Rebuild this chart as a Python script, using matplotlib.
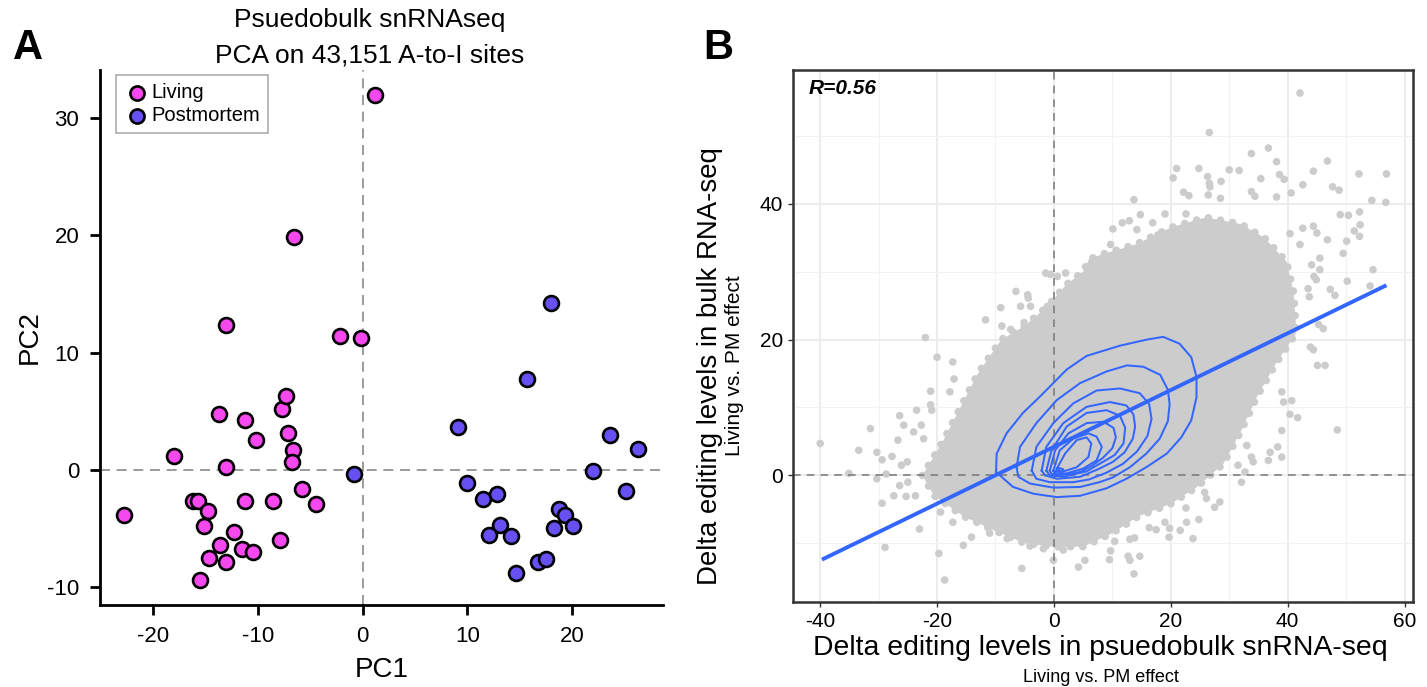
import matplotlib
matplotlib.use("Agg")
import matplotlib.pyplot as plt
from matplotlib import font_manager

W, H = 1427, 687

names = {f.name for f in font_manager.fontManager.ttflist}
FAM = ["Liberation Sans Narrow", "Liberation Sans", "DejaVu Sans"]
FAM = [f for f in FAM if f in names] or ["DejaVu Sans"]
plt.rcParams["font.family"] = FAM
plt.rcParams["axes.unicode_minus"] = False

# ---------------- Panel A: PCA of pseudobulk samples ----------------
living_pc1 = [1.2, -6.6, -13.1, -2.2, -0.15, -22.8, -18.0, -13.7, -11.2, -10.2,
              -7.7, -7.3, -7.1, -6.7, -6.8, -13.1, -5.8, -4.5, -8.6, -11.2,
              -16.2, -15.7, -14.8, -15.2, -12.3, -13.6, -11.5, -10.5, -7.9,
              -14.7, -13.1, -15.5]
living_pc2 = [32.0, 19.9, 12.4, 11.4, 11.3, -3.8, 1.2, 4.8, 4.3, 2.6,
              5.2, 6.3, 3.2, 1.7, 0.65, 0.26, -1.6, -2.9, -2.6, -2.6,
              -2.6, -2.6, -3.5, -4.8, -5.3, -6.4, -6.7, -7.0, -6.0,
              -7.5, -7.8, -9.4]
pm_pc1 = [-0.8, 9.1, 15.7, 18.0, 10.0, 11.5, 12.8, 13.1, 12.1, 14.2, 14.7,
          16.8, 17.5, 18.3, 18.8, 19.3, 20.1, 22.0, 23.6, 25.2, 26.3]
pm_pc2 = [-0.3, 3.7, 7.8, 14.2, -1.1, -2.5, -2.05, -4.7, -5.5, -5.6, -8.8,
          -7.8, -7.6, -4.9, -3.3, -3.8, -4.8, -0.06, 3.0, -1.8, 1.8]
pca_xticks = [-20, -10, 0, 10, 20]
pca_yticks = [-10, 0, 10, 20, 30]

# ---------------- Panel B: delta editing comparison ----------------
# dense core of the 43,151-site cloud (outline)
cloud_x = [-22.5, -20.5, -15.5, -10.5, -5.0, 0.0, 5.0, 10.0, 14.5, 20.0, 24.5,
           29.0, 32.0, 34.7, 38.0, 41.5, 41.0, 39.8, 36.0, 32.0, 26.0, 20.0,
           14.0, 8.0, 6.0, 5.0, 2.0, -1.0, -5.0, -9.0, -13.0, -16.0, -19.0]
cloud_y = [0.0, -3.0, -6.0, -8.0, -10.0, -10.5, -10.5, -8.5, -6.0, -4.2, -1.7,
           1.7, 6.5, 11.5, 16.5, 21.0, 27.0, 31.5, 35.0, 37.0, 38.0, 36.5,
           34.0, 32.5, 31.8, 30.0, 28.0, 25.0, 22.0, 20.0, 15.0, 10.0, 5.0]

# individual sites outside the dense core
site_x = [4.9, 3.5, 6.7, -1.4, -0.6, 0.6, 2.0, -6.5, -4.5, -4.4, -9.1, -5.7,
          -4.0, -1.1, -11.7, -8.9, -7.4, -5.1, -22.0, -20.0, -17.3, -17.1,
          -21.1, -17.8, -21.1, -23.5, -26.4, -20.9, -25.7, -31.4, -22.7, -24.0,
          -22.3, -26.7, -40.0, -33.4, -30.3, -27.7, -29.4, -25.1, -26.1, -35.1,
          -28.7, -30.3, -26.4, -25.0, -27.4, -25.3, -23.7, -29.4, -23.0, -28.9,
          -19.7, -18.7, -17.3, -19.4, -15.5, -14.1, -11.0, -5.5, -0.1, 4.2,
          5.3, 1.6, -1.8, -4.1, -8.0,
          48.5, 45.1, 46.4, 43.9, 44.4, 41.7, 40.4, 40.7, 39.0, 39.3, 39.0,
          39.0, 38.3, 36.7, 37.0, 34.1, 33.8, 33.0, 31.5, 32.1, 32.7, 28.4,
          27.5, 25.8, 26.1, 24.8, 23.8, 22.7, 21.6, 22.6, 19.8, 19.7, 19.0,
          17.5, 16.3, 13.8, 13.0, 14.7, 12.7, 13.0, 13.7, 9.7, 9.5, 10.4,
          42.1, 26.6, 33.8, 36.7, 38.1, 46.8, 44.4, 52.2, 56.9, 21.0, 20.4,
          24.8, 26.3, 26.6, 26.7, 30.0, 31.7, 28.6, 35.4, 38.6, 39.4, 42.6,
          47.7, 48.8, 22.2, 23.1, 26.4, 28.5, 33.8, 34.4, 38.1, 40.6, 13.7,
          54.4, 56.8, 14.8, 19.0, 22.6, 10.1, 11.7, 12.9, 14.2, 16.9, 17.8,
          49.0, 50.4, 52.3, 52.4, 52.3, 51.4, 50.1, 49.5, 46.8, 42.6, 44.4,
          45.0, 42.1, 40.4, 45.5, 44.1, 45.5, 44.5, 44.9, 54.6, 50.2, 54.1,
          47.3, 48.1, 43.5, 43.7, 45.3, 46.1, 9.7, 8.7]
site_y = [25.2, 21.9, 22.5, 29.8, 29.6, 29.3, 29.8, 27.1, 26.6, 26.1, 24.7,
          24.9, 24.9, 24.9, 22.9, 22.0, 21.5, 22.5, 20.3, 17.4, 16.7, 14.2,
          12.4, 12.3, 10.4, 9.6, 8.8, 9.6, 7.4, 6.9, 7.4, 6.4, 5.4, 5.2, 4.7,
          3.7, 3.4, 2.8, 2.3, 2.0, 1.5, 0.3, 0.2, -0.5, -1.5, -1.0, -3.0, -3.1,
          -3.0, -4.1, -7.9, -10.6, -11.5, -15.4, -6.9, -5.4, -10.3, -9.1,
          -8.5, -13.7, -12.5, -13.5, -12.5, -11.0, -10.8, -10.4, -9.3,
          6.7, 16.2, 16.2, 18.9, 18.5, 8.5, 9.0, 11.0, 12.3, 10.8, 6.6, 2.7,
          4.2, 2.2, 3.4, 2.0, 2.7, 4.4, 1.5, -1.0, 0.5, -3.9, -4.7, -2.5,
          -3.4, -6.5, -9.3, -6.9, -8.1, -4.8, -7.8, -9.1, -6.9, -8.0, -7.7,
          -9.2, -9.4, -11.9, -11.9, -12.5, -14.5, -11.1, -12.4, -9.7,
          56.3, 50.5, 47.4, 48.2, 46.2, 46.3, 44.8, 44.4, 44.4, 45.2, 43.8,
          45.2, 44.0, 43.0, 42.5, 45.0, 44.9, 43.3, 43.7, 44.3, 43.6, 42.8,
          42.5, 42.0, 41.7, 41.2, 41.3, 40.8, 41.8, 41.1, 41.0, 41.6, 40.6,
          40.5, 40.2, 38.4, 38.5, 38.5, 36.3, 37.2, 37.5, 36.2, 37.2, 35.4,
          38.4, 38.3, 38.8, 36.9, 35.2, 36.0, 34.5, 32.7, 34.7, 36.4, 36.7,
          35.7, 34.0, 35.6, 32.0, 31.0, 30.3, 29.3, 28.8, 30.3, 28.6, 27.9,
          27.4, 26.5, 27.5, 26.3, 22.2, 21.6, 34.0, 32.3]

# 2-D density contour levels, outermost first
contour_x = [
    [-9.9, -9.8, -8.1, -5.3, -2.4, 2.2, 5.6, 11.3, 15.9, 18.7, 21.5, 23.5, 24.4,
     24.4, 23.5, 21.8, 19.3, 15.8, 12.4, 9.0, 4.5, 0.5, -3.5, -7.0, -9.9],
    [-6.4, -5.8, -3.0, 0.5, 4.5, 9.0, 12.5, 15.3, 18.2, 19.5, 19.8, 19.5, 18.1,
     15.8, 13.0, 10.1, 7.8, 4.5, -0.1, -4.1, -6.1, -6.4],
    [-3.8, -3.0, -0.1, 3.3, 7.3, 11.3, 14.7, 16.3, 16.7, 16.0, 14.2, 11.8, 9.0,
     6.0, 3.3, -0.7, -3.0, -3.8],
    [-2.1, -1.3, 1.6, 5.6, 9.6, 12.4, 13.6, 13.9, 13.5, 12.1, 10.1, 7.8, 4.5,
     0.5, -1.5, -2.1],
    [-1.3, -0.4, 2.2, 5.6, 9.0, 11.3, 12.2, 11.9, 10.4, 8.4, 5.6, 1.6, -0.7, -1.3],
    [-0.7, 0.2, 2.5, 5.6, 8.5, 10.2, 10.6, 10.0, 8.4, 6.5, 4.5, 1.0, -0.4, -0.7],
    [-0.1, 1.0, 3.3, 5.9, 7.3, 8.2, 7.3, 5.0, 2.2, 0.2, -0.1],
    [0.5, 1.9, 3.9, 5.6, 6.4, 5.9, 3.9, 1.3, 0.5],
    [0.3, 0.8, 1.6, 1.3, 0.3],
]
contour_y = [
    [0.5, 3.2, 6.2, 9.2, 11.6, 15.6, 17.6, 19.1, 20.0, 20.4, 19.4, 17.4, 14.5,
     11.5, 8.1, 5.6, 3.2, 1.2, -0.5, -1.9, -3.0, -3.2, -2.7, -1.7, 0.5],
    [1.2, 4.2, 7.7, 11.1, 13.6, 15.3, 16.2, 16.0, 14.8, 12.6, 10.5, 8.0, 5.4,
     3.2, 1.2, -0.3, -1.0, -1.7, -1.8, -1.2, -0.2, 1.2],
    [0.7, 4.2, 7.7, 10.6, 12.5, 12.8, 12.1, 10.5, 8.3, 5.8, 3.5, 1.7, 0.4,
     -0.6, -1.0, -1.0, -0.5, 0.7],
    [0.7, 4.2, 7.7, 10.1, 10.8, 10.3, 9.0, 7.2, 5.4, 3.4, 2.0, 1.0, -0.2,
     -0.5, 0.0, 0.7],
    [0.7, 3.7, 7.2, 9.2, 9.6, 8.8, 7.0, 4.7, 3.0, 2.0, 0.6, -0.2, 0.0, 0.7],
    [0.7, 3.7, 6.2, 7.7, 7.9, 7.0, 5.6, 4.0, 2.6, 1.4, 0.5, 0.0, 0.2, 0.7],
    [0.7, 3.7, 5.4, 6.2, 5.7, 4.2, 2.2, 1.0, 0.3, 0.3, 0.7],
    [1.0, 3.2, 5.2, 5.6, 4.7, 2.7, 1.2, 0.5, 1.0],
    [0.6, 1.1, 0.9, 0.5, 0.6],
]

# linear fit end points
fit_x = [-39.7, 56.9]
fit_y = [-12.4, 28.0]
r_label = "R=0.56"
b_xticks = [-40, -20, 0, 20, 40, 60]
b_yticks = [0, 20, 40]

PINK = "#F548EE"
PURPLE = "#6650F2"
GREY_PT = "#CCCCCC"
BLUE = "#3366FF"

fig = plt.figure(figsize=(W / 100, H / 100), dpi=100)


def fx(px):
    return px / W


def fy(py):
    return 1 - py / H


# ---- Panel A ----
ax1 = fig.add_axes([fx(100), fy(605), (663 - 100) / W, (605 - 70) / H])
ax1.set_xlim(-25.1, 28.7)
ax1.set_ylim(-11.5, 34.1)
ax1.axvline(0, color="#8a8a8a", lw=1.2, ls=(0, (6, 4)), zorder=1)
ax1.axhline(0, color="#8a8a8a", lw=1.2, ls=(0, (6, 4)), zorder=1)
ax1.scatter(living_pc1, living_pc2, s=115, c=PINK, edgecolors="black",
            linewidths=1.9, zorder=3, label="Living")
ax1.scatter(pm_pc1, pm_pc2, s=115, c=PURPLE, edgecolors="black",
            linewidths=1.9, zorder=3, label="Postmortem")
for side in ("top", "right"):
    ax1.spines[side].set_visible(False)
for side in ("left", "bottom"):
    ax1.spines[side].set_linewidth(2.0)
ax1.set_xticks(pca_xticks)
ax1.set_yticks(pca_yticks)
ax1.tick_params(length=7, width=2.0, labelsize=16, pad=8)
ax1.set_xlabel("PC1", fontsize=20, labelpad=7)
ax1.set_ylabel("PC2", fontsize=20, labelpad=3)
leg = ax1.legend(loc="upper left", bbox_to_anchor=(0.028, 0.99),
                 borderaxespad=0, fontsize=14.5, frameon=True, fancybox=False,
                 handletextpad=0.05, borderpad=0.4, labelspacing=0.2,
                 handlelength=1.3, scatterpoints=1, markerscale=0.95)
leg.get_frame().set_edgecolor("#9a9a9a")
leg.get_frame().set_linewidth(1.2)

fig.text(fx(370), fy(20), "Psuedobulk snRNAseq", ha="center", va="center",
         fontsize=19)
fig.text(fx(370), fy(55), "PCA on 43,151 A-to-I sites", ha="center",
         va="center", fontsize=19)
fig.text(fx(28), fy(48), "A", ha="center", va="center", fontsize=30,
         fontweight="bold")

# ---- Panel B ----
ax2 = fig.add_axes([fx(793.3), fy(601.7), 620 / W, 531.7 / H])
ax2.set_xlim(-44.6, 61.5)
ax2.set_ylim(-18.6, 59.7)
ax2.set_xticks(b_xticks)
ax2.set_yticks(b_yticks)
ax2.set_xticks([-30, -10, 10, 30, 50], minor=True)
ax2.set_yticks([-10, 10, 30, 50], minor=True)
ax2.grid(which="major", color="#EBEBEB", lw=1.3, zorder=0)
ax2.grid(which="minor", color="#F2F2F2", lw=0.8, zorder=0)
ax2.set_axisbelow(True)
ax2.tick_params(which="minor", length=0)
ax2.tick_params(which="major", length=3.5, width=1.0, color="#333333",
                labelsize=15, pad=4)

ax2.fill(cloud_x, cloud_y, color=GREY_PT, lw=0, zorder=1)
# speckled rim so the cloud edge reads as overlapping dots
ax2.plot(cloud_x + cloud_x[:1], cloud_y + cloud_y[:1], color=GREY_PT, lw=5.5,
         ls=(0, (0.01, 1.6)), solid_capstyle="round", dash_capstyle="round",
         zorder=1)
ax2.scatter(site_x, site_y, s=30, c=GREY_PT, edgecolors="none", zorder=1)

ax2.axvline(0, color="#777777", lw=1.1, ls=(0, (5, 4)), zorder=2)
ax2.axhline(0, color="#777777", lw=1.1, ls=(0, (5, 4)), zorder=2)

for cx, cy in zip(contour_x, contour_y):
    ax2.plot(cx, cy, color=BLUE, lw=1.45, zorder=3, solid_joinstyle="round")
ax2.plot(fit_x, fit_y, color=BLUE, lw=2.8, zorder=4, solid_capstyle="butt")

for sp in ax2.spines.values():
    sp.set_linewidth(1.8)
    sp.set_color("#333333")

ax2.text(0.024, 0.966, r_label, transform=ax2.transAxes, ha="left",
         va="center", fontsize=15, fontweight="bold", fontstyle="italic")

fig.text(fx(1100), fy(648), "Delta editing levels in psuedobulk snRNA-seq",
         ha="center", va="center", fontsize=20.4)
fig.text(fx(1101), fy(677), "Living vs. PM effect", ha="center",
         va="center", fontsize=13)
fig.text(fx(710), fy(366), "Delta editing levels in bulk RNA-seq",
         ha="center", va="center", fontsize=19.9, rotation=90)
fig.text(fx(735), fy(366), "Living vs. PM effect", ha="center",
         va="center", fontsize=15, rotation=90)
fig.text(fx(718), fy(48), "B", ha="center", va="center", fontsize=30,
         fontweight="bold")

fig.savefig("out.png", dpi=100)
